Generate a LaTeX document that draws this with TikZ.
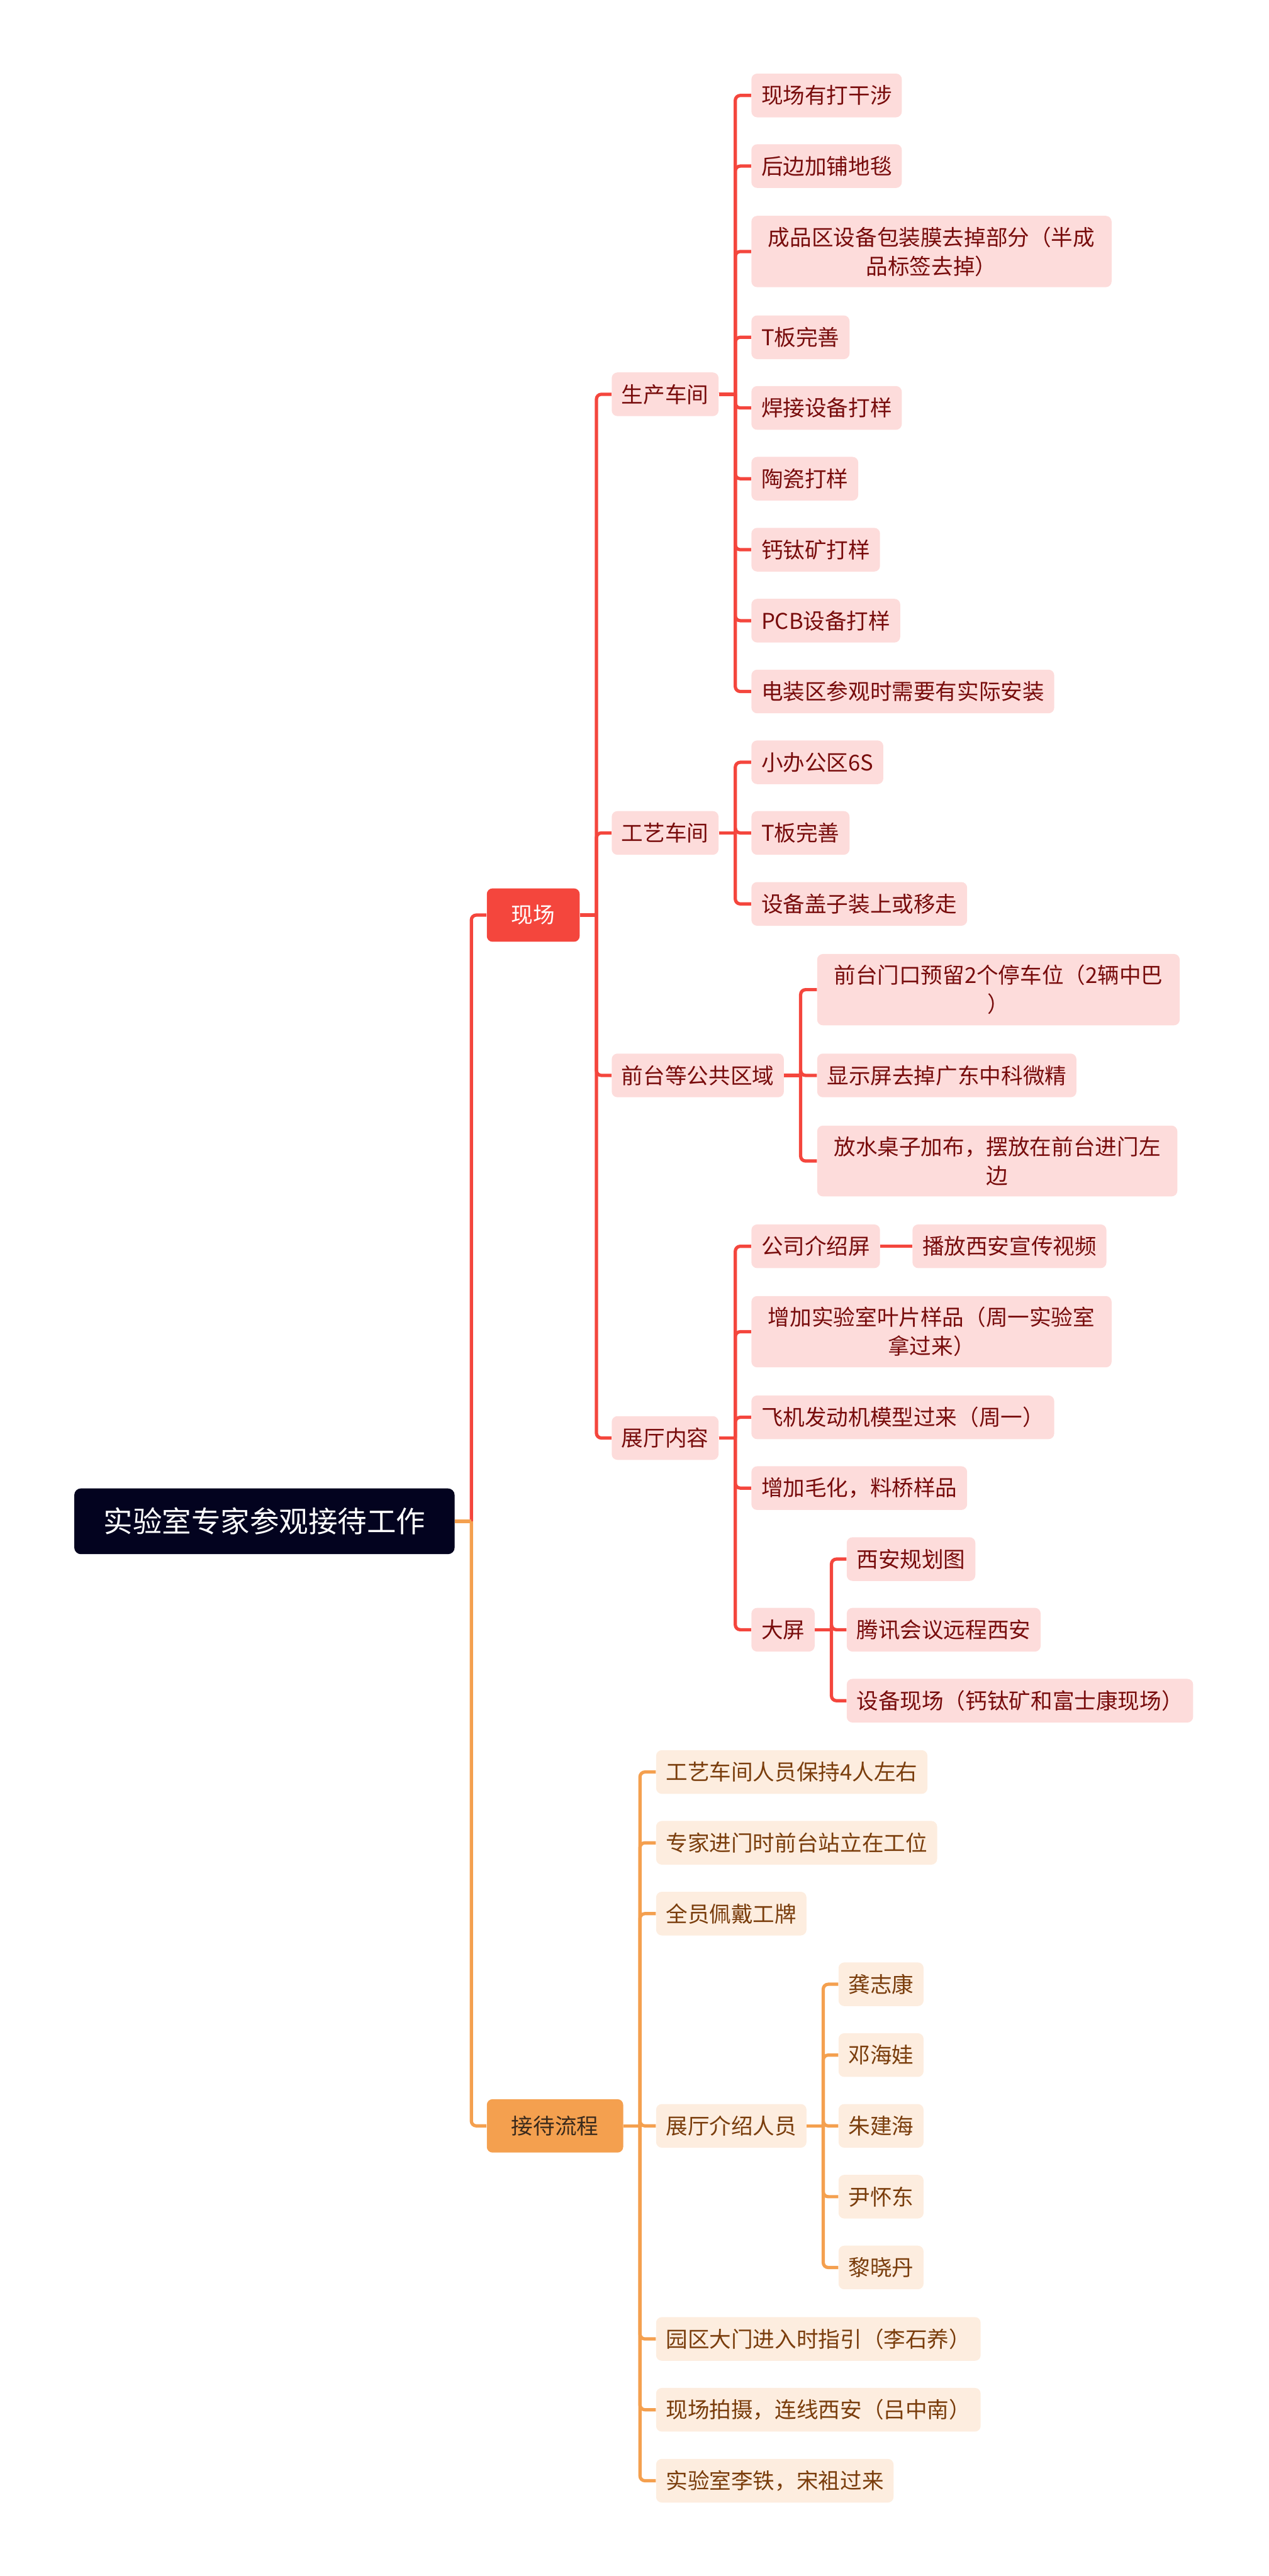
\documentclass[tikz,border=0pt]{standalone}
\usepackage{fontspec}
\setmainfont{Noto Sans CJK SC}
\usetikzlibrary{calc}
\definecolor{rootNavy}{HTML}{03031F}
\definecolor{siteRed}{HTML}{F4463D}
\definecolor{sitePink}{HTML}{FDDCDB}
\definecolor{siteText}{HTML}{780C0C}
\definecolor{flowOrange}{HTML}{F4A04F}
\definecolor{flowCream}{HTML}{FDEDDF}
\definecolor{flowText}{HTML}{7A3D0C}
\definecolor{flowDark}{HTML}{3A2A1C}

\tikzset{
  box/.style={rounded corners=3.5pt,anchor=west,align=center,inner xsep=6pt,inner ysep=6.6pt,
    minimum height=26.6pt,font=\fontsize{13.25}{17.6}\selectfont},
  oneline/.style={},
  twoline/.style={inner xsep=10.2pt},
  redbox/.style={box,fill=sitePink,text=siteText},
  orbox/.style={box,fill=flowCream,text=flowText},
  topbox/.style={box,inner xsep=15pt,minimum height=32.5pt},
  rootbox/.style={box,fill=rootNavy,text=white,rounded corners=4pt,inner xsep=17.8pt,
    minimum height=40pt,font=\fontsize{17.8}{20}\selectfont},
  link/.style={line width=2pt},
}
% parent -> child: straight stub, then rounded elbow
\newcommand{\branchto}[3]{%
  \draw[link,#3] (#1.east) -- ++(10pt,0) coordinate (jn);
  \draw[link,#3,rounded corners=3pt] (jn) |- (#2.west);}

\begin{document}
\begin{tikzpicture}[x=1pt,y=-1pt]
\useasboundingbox (0,0) rectangle (772,1568);

\node[rootbox] (root) at (45,926) {实验室专家参观接待工作};
\node[topbox,fill=siteRed,text=white] (xc) at (296,557) {现场};
\node[topbox,fill=flowOrange,text=flowDark] (jd) at (296,1294) {接待流程};
\branchto{root}{xc}{siteRed}
\branchto{root}{jd}{flowOrange}

% 现场
\foreach \nm/\yy/\txt in {scj/240/生产车间,gycj/507/工艺车间,qt/654.6/前台等公共区域,zt/875.3/展厅内容} {
  \node[redbox] (\nm) at (372,\yy) {\txt};
  \branchto{xc}{\nm}{siteRed}
}
\foreach \nm/\yy/\st/\txt in {
    s1/58.1/oneline/现场有打干涉,
    s2/101.1/oneline/后边加铺地毯,
    s3/153.1/twoline/{成品区设备包装膜去掉部分（半成\\品标签去掉）},
    s4/205.3/oneline/T板完善,
    s5/248.3/oneline/焊接设备打样,
    s6/291.4/oneline/陶瓷打样,
    s7/334.6/oneline/钙钛矿打样,
    s8/377.8/oneline/PCB设备打样,
    s9/420.9/oneline/电装区参观时需要有实际安装} {
  \node[redbox,\st] (\nm) at (457,\yy) {\txt};
  \branchto{scj}{\nm}{siteRed}
}
\foreach \nm/\yy/\txt in {g1/464/小办公区6S,g2/507/T板完善,g3/550.2/设备盖子装上或移走} {
  \node[redbox] (\nm) at (457,\yy) {\txt};
  \branchto{gycj}{\nm}{siteRed}
}
\foreach \nm/\yy/\st/\txt in {
    q1/602.4/twoline/{前台门口预留2个停车位（2辆中巴\\）},
    q2/654.6/oneline/显示屏去掉广东中科微精,
    q3/706.7/twoline/{放水桌子加布，摆放在前台进门左\\边}} {
  \node[redbox,\st] (\nm) at (497,\yy) {\txt};
  \branchto{qt}{\nm}{siteRed}
}
\foreach \nm/\yy/\st/\txt in {
    z1/758.6/oneline/公司介绍屏,
    z2/810.6/twoline/{增加实验室叶片样品（周一实验室\\拿过来）},
    z3/862.7/oneline/飞机发动机模型过来（周一）,
    z4/905.8/oneline/增加毛化，料桥样品,
    z5/992/oneline/大屏} {
  \node[redbox,\st] (\nm) at (457,\yy) {\txt};
  \branchto{zt}{\nm}{siteRed}
}
\node[redbox] (bf) at (555,758.6) {播放西安宣传视频};
\draw[link,siteRed] (z1.east) -- (bf.west);
\foreach \nm/\yy/\txt in {d1/949/西安规划图,d2/992/腾讯会议远程西安,d3/1035.2/设备现场（钙钛矿和富士康现场）} {
  \node[redbox] (\nm) at (515,\yy) {\txt};
  \branchto{z5}{\nm}{siteRed}
}

% 接待流程
\foreach \nm/\yy/\txt in {
    j1/1078.6/工艺车间人员保持4人左右,
    j2/1121.7/专家进门时前台站立在工位,
    j3/1164.8/全员佩戴工牌,
    j4/1294/展厅介绍人员,
    j5/1423.7/园区大门进入时指引（李石养）,
    j6/1466.8/现场拍摄，连线西安（吕中南）,
    j7/1510/实验室李铁，宋袓过来} {
  \node[orbox] (\nm) at (399,\yy) {\txt};
  \branchto{jd}{\nm}{flowOrange}
}
\foreach \nm/\yy/\txt in {p1/1207.8/龚志康,p2/1250.9/邓海娃,p3/1294/朱建海,p4/1337.1/尹怀东,p5/1380.2/黎晓丹} {
  \node[orbox] (\nm) at (510,\yy) {\txt};
  \branchto{j4}{\nm}{flowOrange}
}
\end{tikzpicture}
\end{document}
